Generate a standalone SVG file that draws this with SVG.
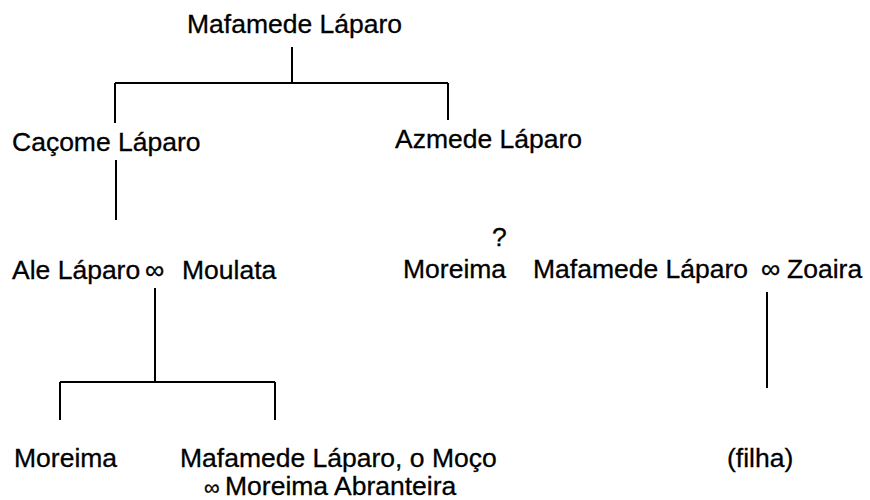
<svg xmlns="http://www.w3.org/2000/svg" width="870" height="500" viewBox="0 0 870 500">
<style>
text{font-family:"Liberation Sans",Arial,sans-serif;font-size:26.5px;fill:#000;stroke:#000;stroke-width:0.3}
.inf{font-size:27px}
.inf2{font-size:22px}
.ln{stroke:#000;stroke-width:2;fill:none}
</style>
<rect width="870" height="500" fill="#fff"/>
<g id="connectors">
<path class="ln" d="M292 47V83M115 83H448M115 83V123M448 83V120"/>
<path class="ln" d="M116 160V220"/>
<path class="ln" d="M155 288V382M60 382H275M60 382V420M275 382V420"/>
<path class="ln" d="M767 292V388"/>
</g>
<g id="n1"><text x="187" y="33">Mafamede Láparo</text></g>
<g id="n2"><text x="12" y="151">Caçome Láparo</text></g>
<g id="n3"><text x="395" y="148">Azmede Láparo</text></g>
<g id="n4"><text x="12" y="279">Ale Láparo</text><text class="inf" x="145" y="279">∞</text><text x="182" y="279">Moulata</text></g>
<g id="n5"><text x="492" y="246">?</text><text x="403" y="278">Moreima</text></g>
<g id="n6"><text x="533" y="278">Mafamede Láparo</text><text class="inf" x="761" y="278">∞</text><text x="787" y="278">Zoaira</text></g>
<g id="n7"><text x="14" y="467">Moreima</text></g>
<g id="n8"><text x="180" y="467">Mafamede Láparo, o Moço</text><text class="inf2" x="204" y="495">∞</text><text x="225" y="495">Moreima Abranteira</text></g>
<g id="n9"><text x="727" y="467">(filha)</text></g>
</svg>
